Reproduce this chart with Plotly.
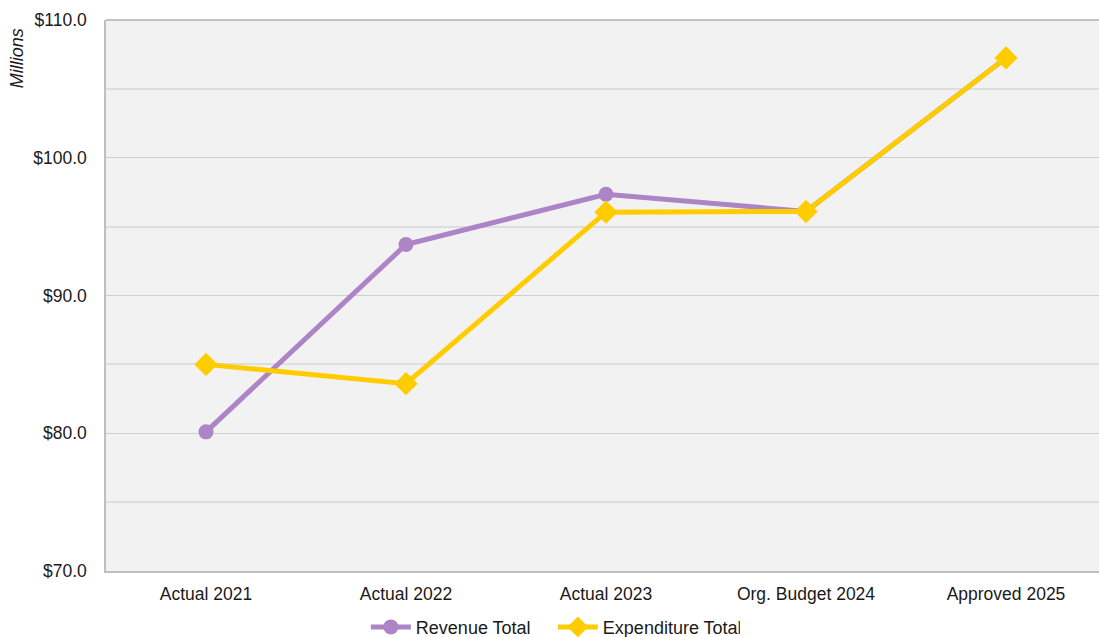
import plotly.graph_objects as go

# Fiscal periods and totals (in millions of dollars)
categories = ["Actual 2021", "Actual 2022", "Actual 2023", "Org. Budget 2024", "Approved 2025"]
revenue_total = [80.1, 93.7, 97.35, 96.1, 107.25]
expenditure_total = [85.0, 83.6, 96.05, 96.1, 107.25]

purple = "#ad84c6"
gold = "#ffcc00"
font_family = "Liberation Sans, Arial, sans-serif"

fig = go.Figure()
fig.add_trace(go.Scatter(
    x=categories, y=revenue_total, name="Revenue Total",
    mode="lines+markers",
    line=dict(color=purple, width=5),
    marker=dict(symbol="circle", size=15, color=purple),
))
fig.add_trace(go.Scatter(
    x=categories, y=expenditure_total, name="Expenditure Total",
    mode="lines+markers",
    line=dict(color=gold, width=5),
    marker=dict(symbol="diamond", size=18, color=gold),
))

fig.update_layout(
    width=1099, height=637,
    margin=dict(l=106, r=0, t=20, b=66, autoexpand=False),
    paper_bgcolor="white",
    plot_bgcolor="#f2f2f2",
    font=dict(family=font_family, size=17.5, color="#1a1a1a"),
    showlegend=True,
    legend=dict(
        orientation="h", x=0.4500, xanchor="center",
        y=-0.102, yanchor="middle",
        font=dict(size=18, color="#1a1a1a"),
        itemwidth=40, tracegroupgap=0,
        entrywidth=132, entrywidthmode="pixels",
    ),
    xaxis=dict(
        type="category",
        range=[-0.5, 4.465],
        showgrid=False, zeroline=False,
        showline=True, linecolor="#bfbfbf", linewidth=1.5,
        ticks="", ticklabelstandoff=6, automargin=False,
        tickfont=dict(size=17.5),
    ),
    yaxis=dict(
        range=[70, 110], dtick=10, tick0=70,
        tickprefix="$", tickformat=".1f",
        showgrid=True, gridcolor="#cfcfcf", gridwidth=1,
        minor=dict(dtick=5, showgrid=True, gridcolor="#dedede", gridwidth=1.5),
        zeroline=False,
        showline=True, linecolor="#bfbfbf", linewidth=1.5, mirror=False,
        ticks="", ticklabelstandoff=14, automargin=False,
        tickfont=dict(size=17.5),
    ),
    shapes=[dict(type="line", xref="paper", yref="paper", x0=0, x1=1, y0=1, y1=1,
                 line=dict(color="#b0b0b0", width=1.5))],
    annotations=[dict(
        text="<i>Millions</i>", xref="paper", yref="paper",
        x=-0.09, y=0.93, xanchor="center", yanchor="middle",
        textangle=-90, showarrow=False, font=dict(size=18, color="#1a1a1a"),
    )],
)

fig.write_html("out.html")
